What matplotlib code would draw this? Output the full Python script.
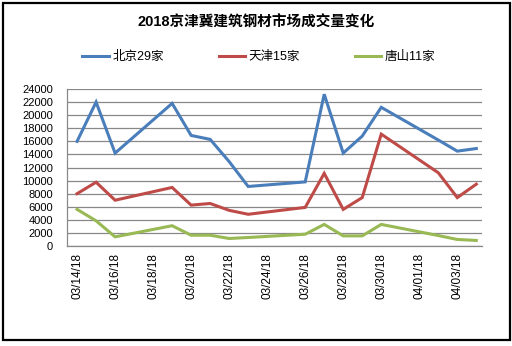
import numpy as np
import pandas as pd
import matplotlib
matplotlib.use('Agg')
import matplotlib.pyplot as plt
from matplotlib.patches import Rectangle

plt.rcParams['font.family'] = ['Liberation Sans', 'Noto Sans CJK SC', 'DejaVu Sans']

# trading days (weekends / holidays skipped)
dates = ['2018-03-14', '2018-03-15', '2018-03-16', '2018-03-19', '2018-03-20',
         '2018-03-21', '2018-03-22', '2018-03-23', '2018-03-26', '2018-03-27',
         '2018-03-28', '2018-03-29', '2018-03-30', '2018-04-02', '2018-04-03',
         '2018-04-04']
beijing = [16000, 22000, 14200, 21800, 16900, 16300, 12900, 9100, 9800, 23200,
           14200, 16800, 21200, 16200, 14500, 14900]
tianjin = [8000, 9750, 7000, 8950, 6250, 6500, 5450, 4850, 5900, 11100,
           5600, 7400, 17100, 11200, 7400, 9450]
tangshan = [5600, 3850, 1400, 3100, 1650, 1650, 1150, 1300, 1800, 3300,
            1550, 1550, 3300, 1600, 1000, 850]
series_names = ['北京29家', '天津15家', '唐山11家']
colors = ['#4A7EBB', '#BE4B48', '#98B954']

tick_dates = ['03/14/18', '03/16/18', '03/18/18', '03/20/18', '03/22/18', '03/24/18',
              '03/26/18', '03/28/18', '03/30/18', '04/01/18', '04/03/18']

start = pd.Timestamp('2018-03-14')
x = np.array([(pd.Timestamp(d) - start).days for d in dates])
tick_pos = [(pd.to_datetime(t, format='%m/%d/%y') - start).days for t in tick_dates]

W, H = 512, 346
fig = plt.figure(figsize=(W / 100, H / 100), dpi=100)
ax = fig.add_axes([67 / W, 1 - 246 / H, (482 - 67) / W, (246 - 89) / H])

for vals, name, c in zip([beijing, tianjin, tangshan], series_names, colors):
    ax.plot(x, vals, color=c, lw=2.2, label=name, solid_joinstyle='miter')

ax.set_ylim(0, 24000)
ax.set_yticks(range(0, 24001, 2000))
ax.set_xlim(-0.53, 21.3)
ax.set_xticks(tick_pos)
ax.set_xticklabels(tick_dates, rotation=90, fontsize=8.5)
ax.tick_params(axis='y', labelsize=8, pad=10, length=0)
ax.tick_params(axis='x', pad=5, length=0)
ax.grid(axis='y', color='#888888', lw=0.9)
ax.set_axisbelow(True)
for s in ['top', 'right']:
    ax.spines[s].set_visible(False)
for s in ['left', 'bottom']:
    ax.spines[s].set_color('#888888')
    ax.spines[s].set_linewidth(0.9)

fig.text(256 / W, 1 - 22 / H, '2018京津冀建筑钢材市场成交量变化', ha='center', va='center',
         fontsize=10.5, fontweight='bold')

handles, labels = ax.get_legend_handles_labels()
fig.legend(handles, labels, loc='center', bbox_to_anchor=(259 / W, 1 - 57 / H), ncol=3,
           frameon=False, fontsize=9, handlelength=2.1, handletextpad=0.3,
           columnspacing=4.4)

# outer chart border
fig.patches.append(Rectangle((3 / W, 1 - 340 / H), 507 / W, 337 / H, transform=fig.transFigure,
                             fill=False, edgecolor='black', lw=1.6))

fig.savefig('out.png', dpi=100)
